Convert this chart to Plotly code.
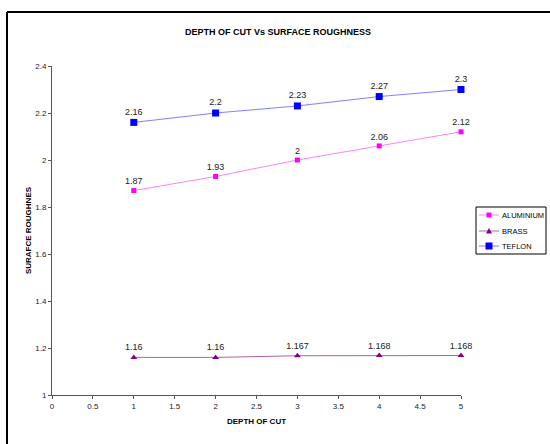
import plotly.graph_objects as go

depth = [1, 2, 3, 4, 5]
aluminium = [1.87, 1.93, 2.0, 2.06, 2.12]
brass = [1.16, 1.16, 1.167, 1.168, 1.168]
teflon = [2.16, 2.2, 2.23, 2.27, 2.3]
x_ticks = [0, 0.5, 1, 1.5, 2, 2.5, 3, 3.5, 4, 4.5, 5]
y_ticks = [1, 1.2, 1.4, 1.6, 1.8, 2, 2.2, 2.4]
series_names = ["ALUMINIUM", "BRASS", "TEFLON"]

FONT = "Liberation Sans, Arial, sans-serif"

# plot-area geometry in pixels
L, R, T, B = 52, 461, 66, 395
W, H = R - L, B - T


def px(x):
    return (x - L) / W


def py(y):
    return 1 - (y - T) / H


def lab(vals):
    return [f"{v:g}" for v in vals]


styles = [
    dict(line="#ff80ff", marker="#ff00ff", symbol="square", size=5),
    dict(line="#b060b0", marker="#800080", symbol="triangle-up", size=6),
    dict(line="#8080ff", marker="#0000ff", symbol="square", size=7),
]
values = [aluminium, brass, teflon]

fig = go.Figure()
for name, vals, st in zip(series_names, values, styles):
    fig.add_trace(go.Scatter(
        x=depth, y=vals, name=name, mode="lines+markers+text",
        line=dict(color=st["line"], width=1),
        marker=dict(symbol=st["symbol"], size=st["size"], color=st["marker"]),
        text=lab(vals), textposition="top center", cliponaxis=False,
        showlegend=False,
        textfont=dict(size=9, color="#222222", family=FONT)))

axis_common = dict(showgrid=False, zeroline=False, showline=True,
                   linecolor="#555555", linewidth=1, ticks="outside",
                   ticklen=3, tickcolor="#555555",
                   tickfont=dict(size=8, color="#222222", family=FONT))

fig.update_layout(
    width=550, height=444,
    margin=dict(l=L, r=550 - R, t=T, b=444 - B, autoexpand=False),
    paper_bgcolor="white", plot_bgcolor="white",
    title=dict(text="<b>DEPTH OF CUT Vs SURFACE ROUGHNESS</b>",
               x=278 / 550, xanchor="center", y=1 - 32 / 444, yanchor="middle",
               font=dict(size=9, color="#000000", family=FONT)),
    xaxis=dict(range=[0, 5], tickvals=x_ticks, ticktext=lab(x_ticks),
               title=dict(text="<b>DEPTH OF CUT</b>", standoff=8,
                          font=dict(size=8, color="#000000", family=FONT)),
               **axis_common),
    yaxis=dict(range=[1, 2.4], tickvals=y_ticks, ticktext=lab(y_ticks),
               title=dict(text="<b>SURAFCE ROUGHNES</b>", standoff=2,
                          font=dict(size=8, color="#000000", family=FONT)),
               **axis_common),
    showlegend=False,
)

# chart frame (top and left edges visible)
fig.add_shape(type="line", xref="paper", yref="paper",
              x0=px(7), x1=px(560), y0=py(12), y1=py(12),
              line=dict(color="black", width=2))
fig.add_shape(type="line", xref="paper", yref="paper",
              x0=px(7), x1=px(7), y0=py(12), y1=py(460),
              line=dict(color="black", width=2))

# manual legend
fig.add_shape(type="rect", xref="paper", yref="paper",
              x0=px(476), x1=px(546), y0=py(207), y1=py(254),
              line=dict(color="black", width=1), fillcolor="white")
rows = [215, 231, 246]
for name, st, ry in zip(series_names, styles, rows):
    fig.add_shape(type="line", xref="paper", yref="paper",
                  x0=px(479), x1=px(499), y0=py(ry), y1=py(ry),
                  line=dict(color=st["line"], width=1))
    s = st["size"] / 2
    if st["symbol"] == "square":
        fig.add_shape(type="rect", xref="paper", yref="paper",
                      x0=px(489 - s), x1=px(489 + s), y0=py(ry - s), y1=py(ry + s),
                      line=dict(width=0), fillcolor=st["marker"])
    else:
        fig.add_shape(type="path", xref="paper", yref="paper",
                      path=f"M {px(489 - s)},{py(ry + s * 0.8)} L {px(489 + s)},{py(ry + s * 0.8)} "
                           f"L {px(489)},{py(ry - s)} Z",
                      line=dict(width=0), fillcolor=st["marker"])
    fig.add_annotation(xref="paper", yref="paper", x=px(500), y=py(ry),
                       xanchor="left", yanchor="middle", showarrow=False,
                       text=name, font=dict(size=7.5, color="#000000", family=FONT))

fig.write_html("out.html")
